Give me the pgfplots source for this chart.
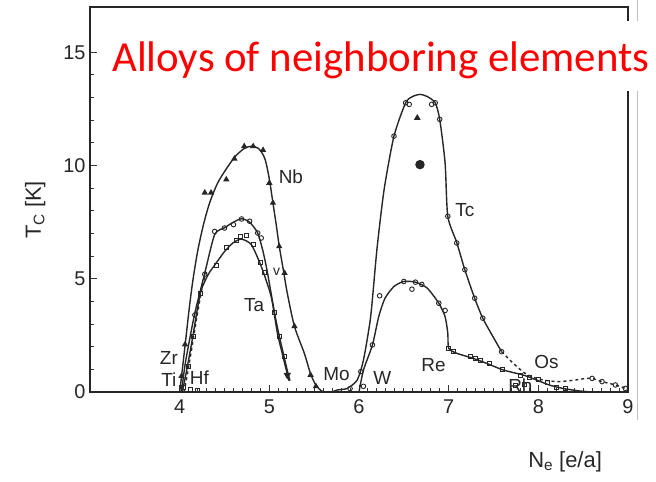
\documentclass[border=0pt]{standalone}
\usepackage{pgfplots}
\pgfplotsset{compat=1.18}
\usepackage{fontspec}
\setmainfont{Liberation Sans}
\newfontfamily\calibri{Carlito}
\tikzset{lab/.style={font=\fontsize{19}{20}\selectfont, text=black!85, inner sep=0pt}}
\begin{document}
\begin{tikzpicture}[x=1bp,y=1bp]
\path[use as bounding box] (0,0) rectangle (656,482);
\draw[black!25, line width=1bp] (637,62) -- (637,482);
\begin{axis}[
  at={(90bp,90bp)}, anchor=south west,
  scale only axis, width=538bp, height=385bp,
  xmin=3, xmax=9, ymin=0, ymax=17,
  clip=false,
  axis line style={line width=1.4bp, black!85},
  xtick={4,5,6,7,8,9}, ytick={0,5,10,15},
  minor x tick num=9, minor y tick num=4,
  xtick pos=bottom, ytick pos=left,
  tick align=inside,
  major tick length=7bp, minor tick length=4bp,
  tick style={line width=1bp, black!80},
  tick label style={font=\fontsize{20}{21}\selectfont, text=black!85},
  /pgf/number format/assume math mode=true,
  xticklabel style={yshift=-4bp},
  yticklabel style={xshift=-1bp},
  xlabel={N\textsubscript{e} [e/a]},
  ylabel={T\textsubscript{C} [K]},
  label style={font=\fontsize{22}{24}\selectfont, text=black!85},
  xlabel style={at={(axis description cs:0.883,-0.182)}, anchor=center},
  ylabel style={at={(axis description cs:-0.102,0.473)}, anchor=center, rotate=0},
  every axis plot/.append style={line width=1.4bp, black!85},
]
% Nb curve
\addplot[smooth, tension=0.5] coordinates {
(4.0,0) (4.03,1.0) (4.07,2.4) (4.11,3.8) (4.15,5.0) (4.2,6.2) (4.26,7.3) (4.33,8.3)
(4.42,9.2) (4.52,9.85) (4.62,10.4) (4.72,10.75) (4.8,10.85) (4.88,10.75) (4.95,10.3)
(5.0,9.4) (5.04,8.35) (5.08,7.3) (5.11,6.45) (5.16,5.3) (5.2,4.37) (5.28,2.9) (5.39,1.71)
(5.46,0.8) (5.52,0.3) (5.58,0.05) (5.62,0)};
\addplot[only marks, mark=triangle*, mark size=2.3bp] coordinates {
(4.28,8.8) (4.35,8.8) (4.52,9.38) (4.61,10.3) (4.72,10.85) (4.82,10.85) (4.93,10.68)
(5.0,9.23) (5.04,8.35) (5.11,6.43) (5.17,5.25) (5.28,2.9) (4.06,2.1) (4.02,0.7)
(5.46,0.75) (5.52,0.25)};
% V curve
\addplot[smooth, tension=0.4] coordinates {
(4.02,0) (4.06,1.2) (4.11,2.3) (4.17,3.5) (4.28,5.25) (4.39,6.95) (4.5,7.25)
(4.6,7.5) (4.69,7.65) (4.78,7.5) (4.87,7.02) (4.93,6.2) (4.98,5.25) (5.08,3.04)
(5.19,1.12) (5.23,0.5)};
\addplot[only marks, mark=o, mark size=2.3bp, line width=0.9bp] coordinates {
(4.39,7.09) (4.50,7.24) (4.60,7.39) (4.69,7.64) (4.78,7.54) (4.87,7.02) (4.91,6.8)
(4.17,3.4) (4.28,5.2)};
% Ta curve
\addplot[smooth, tension=0.4] coordinates {
(4.03,0) (4.08,1.0) (4.14,2.3) (4.19,3.5) (4.24,4.5) (4.32,5.2) (4.39,5.6)
(4.5,6.2) (4.6,6.6) (4.69,6.75) (4.8,6.5) (4.91,5.54) (5.02,4.22) (5.09,2.6)
(5.15,1.6) (5.2,0.8) (5.22,0.5)};
\addplot[only marks, mark=square, mark size=2bp, line width=0.9bp] coordinates {
(4.41,5.6) (4.52,6.4) (4.63,6.7) (4.68,6.85) (4.75,6.9) (4.82,6.5) (4.9,5.7)
(4.95,5.3) (5.06,3.5) (5.11,2.45) (5.17,1.56) (4.15,2.45) (4.23,4.37) (4.10,1.12)
(4.04,0.2) (4.12,0.1) (4.2,0.05)};
\addplot[only marks, mark=triangle*, mark options={rotate=180}, mark size=3bp] coordinates {(5.2,0.75)};
% Hf dashed
\addplot[dashed, smooth] coordinates {(4.05,0) (4.1,1.1) (4.15,2.3) (4.2,3.5) (4.26,4.8) (4.3,5.3)};
% Tc curve (solid)
\addplot[smooth, tension=0.4] coordinates {
(5.7,0) (5.76,0.09) (5.87,0.16) (5.98,0.53) (6.05,1.42) (6.13,3.33) (6.2,6.3)
(6.28,8.94) (6.39,11.3) (6.52,12.77) (6.6,13.05) (6.68,13.14) (6.76,13.05)
(6.85,12.77) (6.9,12.04) (6.96,10.12) (6.99,7.76) (7.09,6.6) (7.18,5.4) (7.29,4.14)
(7.38,3.26) (7.5,2.4) (7.59,1.78)};
% Tc / Os dashed continuation
\addplot[dashed, smooth, tension=0.4] coordinates {
(7.59,1.78) (7.72,1.27) (7.85,0.83) (7.98,0.6) (8.1,0.5) (8.23,0.46) (8.4,0.52)
(8.53,0.6) (8.6,0.6) (8.71,0.46) (8.86,0.31) (8.97,0.16) (9.0,0.1)};
\addplot[only marks, mark=o, mark size=2.3bp, line width=0.9bp] coordinates {
(6.52,12.77) (6.56,12.7) (6.85,12.77) (6.81,12.7) (6.39,11.3) (6.9,12.04) (6.99,7.76)
(7.09,6.58) (7.18,5.4) (7.29,4.14) (7.38,3.26) (7.59,1.78) (8.6,0.6) (8.71,0.46)
(8.86,0.31) (8.97,0.16) (6.02,0.9) (5.9,0.15)};
\addplot[only marks, mark=triangle*, mark size=2.6bp] coordinates {(6.65,12.1)};
\addplot[only marks, mark=*, mark size=4bp] coordinates {(6.68,10.04)};
% Re curve
\addplot[smooth, tension=0.4] coordinates {
(6.0,0) (6.05,0.97) (6.15,2.08) (6.22,3.33) (6.29,4.14) (6.39,4.66) (6.5,4.88)
(6.63,4.85) (6.76,4.59) (6.89,3.92) (6.96,3.33) (6.99,2.6) (7.0,1.93) (7.09,1.71)
(7.27,1.49) (7.42,1.27) (7.61,0.97) (7.83,0.75) (7.98,0.53) (8.12,0.31) (8.27,0.16)
(8.45,0.05) (8.6,0)};
\addplot[only marks, mark=o, mark size=2.3bp, line width=0.9bp] coordinates {
(6.15,2.08) (6.23,4.25) (6.5,4.88) (6.59,4.54) (6.63,4.85) (6.7,4.75) (6.89,3.92)
(6.96,3.6) (6.05,0.25)};
\addplot[only marks, mark=square, mark size=2bp, line width=0.9bp] coordinates {
(7.0,1.93) (7.05,1.8) (7.24,1.56) (7.3,1.5) (7.35,1.4) (7.46,1.27) (7.6,1.0)
(7.8,0.75) (7.9,0.65) (8.0,0.55) (8.1,0.4) (7.75,0.3) (7.85,0.35) (8.2,0.2) (8.3,0.15)};
% labels
\node[lab] at (axis cs:5.24,9.5) {Nb};
\node[lab] at (axis cs:4.83,3.85) {Ta};
\node[lab, font=\fontsize{14}{14}\selectfont] at (axis cs:5.08,5.3) {v};
\node[lab] at (axis cs:3.88,1.5) {Zr};
\node[lab] at (axis cs:3.88,0.55) {Ti};
\node[lab] at (axis cs:4.22,0.65) {Hf};
\node[lab] at (axis cs:5.75,0.8) {Mo};
\node[lab] at (axis cs:6.26,0.6) {W};
\node[lab] at (axis cs:6.83,1.2) {Re};
\node[lab] at (axis cs:8.09,1.34) {Os};
\node[lab] at (axis cs:7.8,0.3) {Rh};
\node[lab] at (axis cs:7.18,8.02) {Tc};
\end{axis}
\fill[white] (98,391) rectangle (645,461);
\node[anchor=base west, inner sep=0pt, text=red, font=\calibri\fontsize{43}{43}\selectfont] at (112,410) {Alloys of neighboring elements};
\end{tikzpicture}
\end{document}
